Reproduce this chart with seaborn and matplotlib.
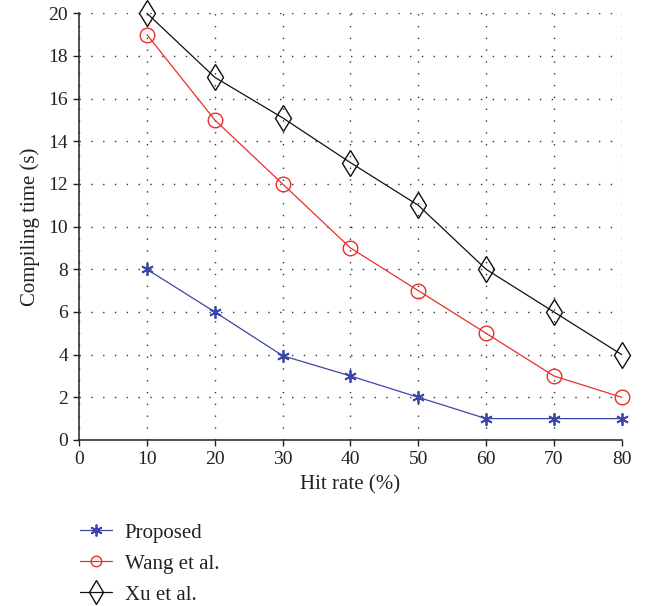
import matplotlib
matplotlib.use("Agg")
import matplotlib.pyplot as plt
import seaborn as sns
import pandas as pd

hit_rate = [10, 20, 30, 40, 50, 60, 70, 80]
proposed = [8, 6, 3.95, 3, 2, 1, 1, 1]
wang = [19, 15, 12, 9, 7, 5, 3, 2]
xu = [20, 17, 15.1, 13, 11, 8, 6, 4]
series_names = ["Proposed", "Wang et al.", "Xu et al."]
x_ticks = [0, 10, 20, 30, 40, 50, 60, 70, 80]
y_ticks = [0, 2, 4, 6, 8, 10, 12, 14, 16, 18, 20]

sns.set_style("white")
plt.rcParams['font.family'] = ['Liberation Serif', 'DejaVu Serif']

fig = plt.figure(figsize=(6.49, 6.06), dpi=100)
ax = fig.add_axes([0.122, 0.274, 0.836, 0.704])

styles = [
    dict(color="#3c47a8", marker=(6, 2, 0), markersize=9, markeredgewidth=1.3,
         markerfacecolor="#3c47a8", markeredgecolor="#3c47a8"),
    dict(color="#e8302a", marker="o", markersize=10.5, markeredgewidth=1.0,
         markerfacecolor="none", markeredgecolor="#e8302a"),
    dict(color="#111111", marker="d", markersize=13, markeredgewidth=1.0,
         markerfacecolor="none", markeredgecolor="#111111"),
]
for name, vals, st in zip(series_names, [proposed, wang, xu], styles):
    df = pd.DataFrame({"x": hit_rate, "y": vals})
    sns.lineplot(data=df, x="x", y="y", ax=ax, linewidth=0.9, label=name,
                 legend=False, clip_on=False, zorder=3, **st)

ax.set_xlim(0, 80)
ax.set_ylim(0, 20)
ax.set_xticks(x_ticks)
ax.set_yticks(y_ticks)
ax.grid(True, color="#333333", linestyle=(0, (1, 7.5)), linewidth=1.0)
for s in ["top", "right"]:
    ax.spines[s].set_visible(False)
for s in ["left", "bottom"]:
    ax.spines[s].set_color("#222222")
    ax.spines[s].set_linewidth(1.1)
ax.tick_params(axis="both", direction="out", length=4, width=1, color="#222222",
               labelsize=14, labelcolor="#222222", pad=4, left=True, bottom=True)
ax.set_xlabel("Hit rate (%)", fontsize=15, color="#222222", labelpad=5)
ax.set_ylabel("Compiling time (s)", fontsize=15, color="#222222", labelpad=6)

handles, labels = ax.get_legend_handles_labels()
leg = fig.legend(handles, labels, loc="upper left", bbox_to_anchor=(0.123, 0.137),
                 frameon=False, fontsize=15, handlelength=1.55, labelspacing=0.55,
                 handletextpad=0.6, borderaxespad=0, borderpad=0)
for h, scale in zip(leg.legend_handles, [0.95, 0.72, 0.95]):
    h.set_markersize(h.get_markersize() * scale)
for t in leg.get_texts():
    t.set_color("#222222")

fig.savefig("out.png", dpi=100)
